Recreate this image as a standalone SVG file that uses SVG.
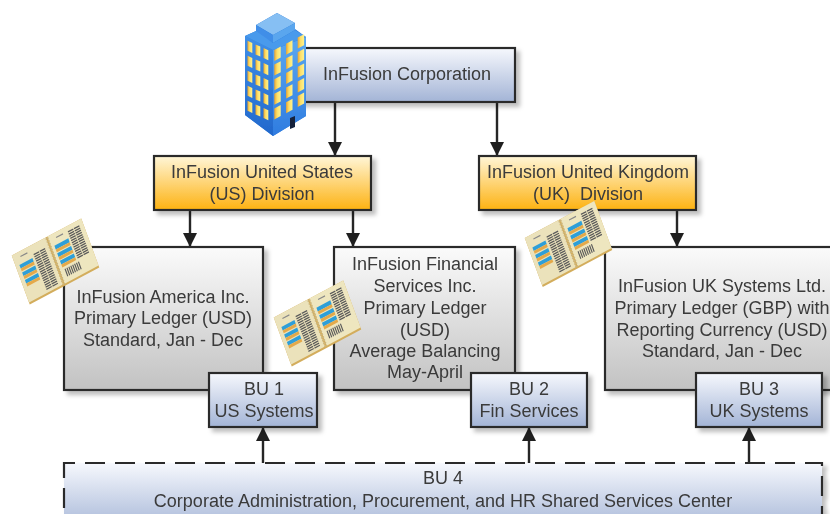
<svg xmlns="http://www.w3.org/2000/svg" xmlns:xlink="http://www.w3.org/1999/xlink" width="830" height="514" viewBox="0 0 830 514">
<style>
.box{stroke:#2b2b2b;stroke-width:2.2;filter:url(#sh)}
.blue{fill:url(#gBlue)}.gold{fill:url(#gGold)}.grey{fill:url(#gGrey)}
.t{font-family:"Liberation Sans",Arial,sans-serif;font-size:18px;fill:#3a3a3a;text-anchor:middle;filter:url(#soft)}
.c{stroke:#262626;stroke-width:2.4;fill:none;marker-end:url(#arr)}
.gl{stroke:#5a5a5a;stroke-width:6.2;stroke-dasharray:1.3 1;fill:none}
.art{filter:url(#soft2)}
</style>
<defs>
<linearGradient id="gBlue" x1="0" y1="0" x2="0" y2="1"><stop offset="0" stop-color="#f6f8fd"/><stop offset="1" stop-color="#a3b4d6"/></linearGradient>
<linearGradient id="gGold" x1="0" y1="0" x2="0" y2="1"><stop offset="0" stop-color="#fff6d8"/><stop offset="1" stop-color="#fdb211"/></linearGradient>
<linearGradient id="gGrey" x1="0" y1="0" x2="0" y2="1"><stop offset="0" stop-color="#fbfbfb"/><stop offset="1" stop-color="#c2c2c2"/></linearGradient>
<linearGradient id="gWin" x1="0" y1="0" x2="1" y2="0"><stop offset="0" stop-color="#eda52e"/><stop offset=".45" stop-color="#fbe06a"/><stop offset="1" stop-color="#fff28e"/></linearGradient>
<linearGradient id="gL" x1="0" y1="0" x2="0" y2="1"><stop offset="0" stop-color="#3f8fe8"/><stop offset="1" stop-color="#2268cc"/></linearGradient>
<linearGradient id="gR" x1="0" y1="0" x2="0" y2="1"><stop offset="0" stop-color="#5aa8f0"/><stop offset="1" stop-color="#2f7ce0"/></linearGradient>
<filter id="sh" x="-10%" y="-10%" width="125%" height="130%"><feDropShadow dx="4" dy="4" stdDeviation="2" flood-color="#000" flood-opacity=".25"/></filter>
<filter id="soft" x="-5%" y="-10%" width="110%" height="120%"><feGaussianBlur stdDeviation=".3"/></filter>
<filter id="soft2" x="-5%" y="-5%" width="110%" height="110%"><feGaussianBlur stdDeviation=".45"/></filter>
<marker id="arr" markerUnits="userSpaceOnUse" markerWidth="15" markerHeight="14" refX="14" refY="7" orient="auto"><path d="M0 0L14 7L0 14Z" fill="#1f1f1f"/></marker>
<g id="winL"><rect y="0" width="4.8" height="10" fill="url(#gWin)"/><rect y="15" width="4.8" height="10" fill="url(#gWin)"/><rect y="30" width="4.8" height="10" fill="url(#gWin)"/><rect y="45" width="4.8" height="10" fill="url(#gWin)"/><rect y="60" width="4.8" height="10" fill="url(#gWin)"/></g>
<g id="winR"><rect y="0" width="6.4" height="11" fill="url(#gWin)"/><rect y="14.6" width="6.4" height="11" fill="url(#gWin)"/><rect y="29.2" width="6.4" height="11" fill="url(#gWin)"/><rect y="43.8" width="6.4" height="11" fill="url(#gWin)"/><rect y="58.4" width="6.4" height="11" fill="url(#gWin)"/></g>
<g id="book">
<path d="M-40-26H40V26H-40Z" fill="#d3ad5c"/>
<path d="M-40-26H-1V24H-40Z" fill="#ebe2bb"/>
<path d="M1-26H40V24H1Z" fill="#eee6bf"/>
<line x1="0" y1="-25" x2="0" y2="25" stroke="#cdb67c" stroke-width="3.4" stroke-dasharray="1.5 1.5"/>
<g fill="#2e9fd8"><rect x="-36" y="-14" width="15" height="3.8"/><rect x="-36" y="-6" width="15" height="3.8"/><rect x="-36" y="2" width="15" height="3.8"/><rect x="4.5" y="-14.5" width="16" height="4"/><rect x="4.5" y="-6.5" width="16" height="4"/><rect x="4.5" y="1.5" width="16" height="4"/></g>
<g fill="#e4a94a"><rect x="-36" y="-10.2" width="15" height="3"/><rect x="-36" y="-2.2" width="15" height="3"/><rect x="-36" y="5.8" width="15" height="3"/><rect x="4.5" y="-10.5" width="16" height="3"/><rect x="4.5" y="-2.5" width="16" height="3"/><rect x="4.5" y="5.5" width="16" height="3"/></g>
<line class="gl" x1="-15.5" y1="-17" x2="-15.5" y2="21"/><line class="gl" x1="-8.5" y1="-17" x2="-8.5" y2="21"/>
<line class="gl" x1="25.5" y1="-21" x2="25.5" y2="8"/><line class="gl" x1="32.5" y1="-21" x2="32.5" y2="8"/>
<path d="M6 15H23" stroke="#5a5a5a" stroke-width="8" stroke-dasharray="1.2 1" fill="none"/>
<path d="M-32-21H-24M9-21H17" stroke="#888" stroke-width="1.2"/>
</g>
</defs>

<g id="connectors">
<path class="c" d="M335 102V156"/>
<path class="c" d="M497 102V156"/>
<path class="c" d="M190 210V247"/>
<path class="c" d="M353 210V247"/>
<path class="c" d="M677 210V247"/>
<path class="c" d="M263 463V427"/>
<path class="c" d="M529 463V427"/>
<path class="c" d="M749 463V427"/>
</g>

<g id="corp"><rect class="box blue" x="290" y="48" width="225" height="54"/><text class="t" x="407" y="80">InFusion Corporation</text></g>
<g id="building" class="art">
<path d="M245 36L256 31V25L277 13L295 23V29L306 37V116L273 136L245 115Z" fill="#2a78d8"/>
<path d="M245 36L273 50V136L245 115Z" fill="url(#gL)"/>
<path d="M273 50L306 37V116L273 136Z" fill="url(#gR)"/>
<path d="M256 25L277 13L295 23L273 35Z" fill="#86bff3"/>
<path d="M256 25L273 35V43L256 33Z" fill="#3f8ee8"/>
<path d="M273 35L295 23V30L273 43Z" fill="#5aa6ee"/>
<path d="M245 36L256 31L273 43L295 30L306 37L273 50Z" fill="#4a9aec"/>
<g transform="translate(247.5,40.7) skewY(24.7)"><use xlink:href="#winL" href="#winL"/><use xlink:href="#winL" href="#winL" x="8"/><use xlink:href="#winL" href="#winL" x="16"/></g>
<g transform="translate(274.3,50) skewY(-27.9)"><use xlink:href="#winR" href="#winR"/><use xlink:href="#winR" href="#winR" x="11.8"/><use xlink:href="#winR" href="#winR" x="23.4"/></g>
<path d="M290 118L295 116V127L290 129Z" fill="#12203a"/>
</g>
<g id="us-division"><rect class="box gold" x="154" y="156" width="217" height="54"/><text class="t" x="262" y="178">InFusion United States</text><text class="t" x="262" y="200">(US) Division</text></g>
<g id="uk-division"><rect class="box gold" x="479" y="156" width="217" height="54"/><text class="t" x="588" y="178">InFusion United Kingdom</text><text class="t" x="588" y="200" xml:space="preserve">(UK)  Division</text></g>
<g id="america"><rect class="box grey" x="64" y="247" width="199" height="143"/><text class="t" x="163" y="303">InFusion America Inc.</text><text class="t" x="163" y="324">Primary Ledger (USD)</text><text class="t" x="163" y="346">Standard, Jan - Dec</text></g>
<g id="financial"><rect class="box grey" x="334" y="247" width="181" height="143"/><text class="t" x="425" y="270">InFusion Financial</text><text class="t" x="425" y="292">Services Inc.</text><text class="t" x="425" y="314">Primary Ledger</text><text class="t" x="425" y="336">(USD)</text><text class="t" x="425" y="357">Average Balancing</text><text class="t" x="425" y="378">May-April</text></g>
<g id="uk-systems"><rect class="box grey" x="605" y="247" width="250" height="143"/><text class="t" x="722" y="292">InFusion UK Systems Ltd.</text><text class="t" x="722" y="314">Primary Ledger (GBP) with</text><text class="t" x="722" y="336">Reporting Currency (USD)</text><text class="t" x="722" y="357">Standard, Jan - Dec</text></g>
<g id="bu1"><rect class="box blue" x="209" y="373" width="108" height="54"/><text class="t" x="264" y="395">BU 1</text><text class="t" x="264" y="417">US Systems</text></g>
<g id="bu2"><rect class="box blue" x="471" y="373" width="116" height="54"/><text class="t" x="529" y="395">BU 2</text><text class="t" x="529" y="417">Fin Services</text></g>
<g id="bu3"><rect class="box blue" x="696" y="373" width="126" height="54"/><text class="t" x="759" y="395">BU 3</text><text class="t" x="759" y="417">UK Systems</text></g>
<g id="bu4"><rect class="box blue" x="64" y="463" width="758" height="70" stroke-dasharray="20 10" stroke-dashoffset="9"/><text class="t" x="443" y="484">BU 4</text><text class="t" x="443" y="507">Corporate Administration, Procurement, and HR Shared Services Center</text></g>
<g id="book1" class="art"><use xlink:href="#book" href="#book" transform="matrix(.869 -.4625 .346 .942 55.5 261.5)"/></g>
<g id="book2" class="art"><use xlink:href="#book" href="#book" transform="matrix(.869 -.4625 .346 .942 317.5 323.5)"/></g>
<g id="book3" class="art"><use xlink:href="#book" href="#book" transform="matrix(.869 -.4625 .346 .942 568.5 244)"/></g>
</svg>
